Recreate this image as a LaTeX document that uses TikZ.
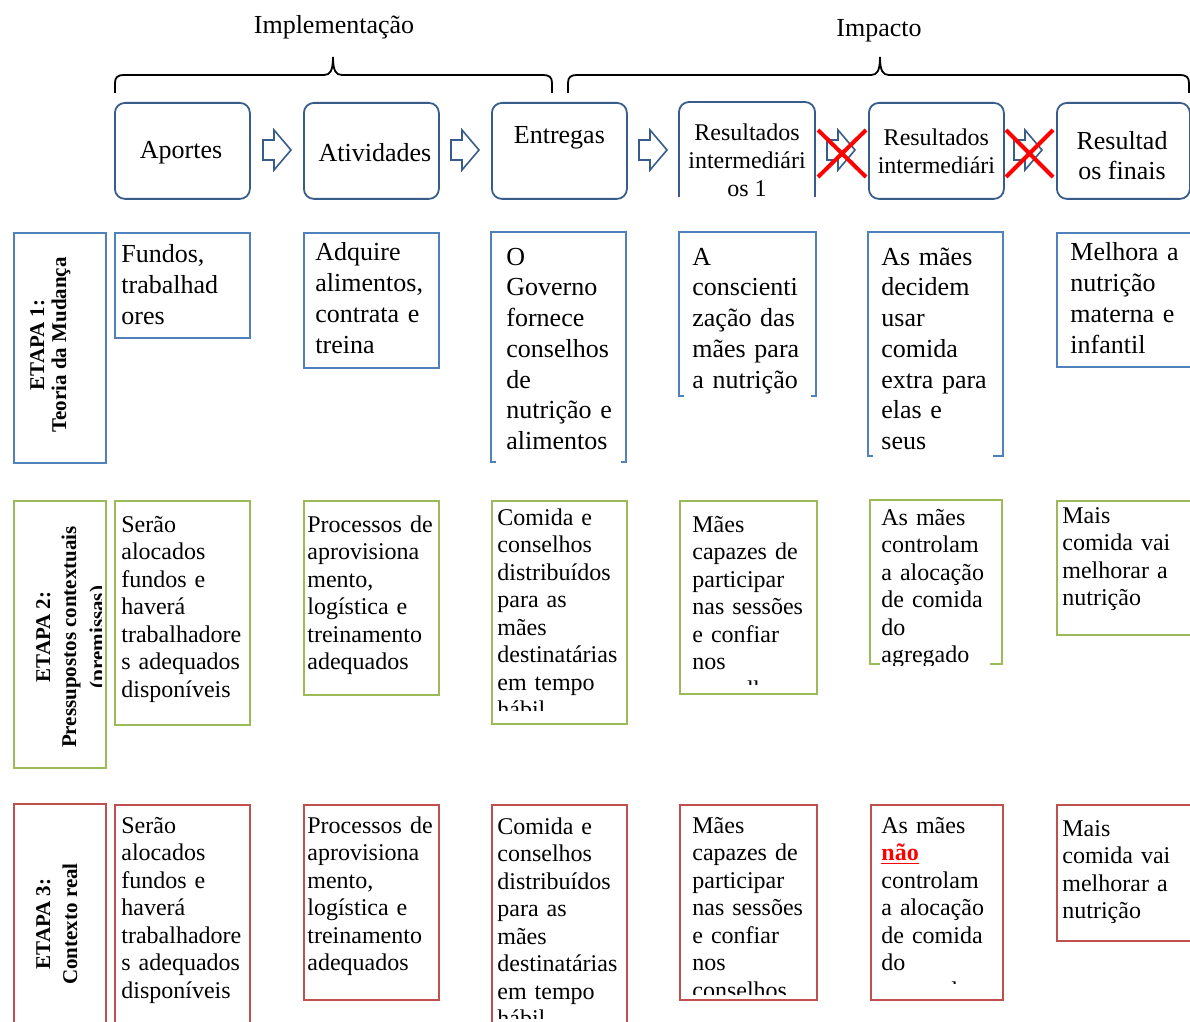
\documentclass[tikz,border=0pt]{standalone}
\usepackage{fontspec}
\setmainfont{Liberation Serif}
\usetikzlibrary{positioning}

\definecolor{headblue}{HTML}{385D8A}
\definecolor{rowblue}{HTML}{4F81BD}
\definecolor{rowgreen}{HTML}{9BBB59}
\definecolor{rowred}{HTML}{C0504D}
\definecolor{crossred}{HTML}{FF0000}

\tikzset{
  blockarrow/.pic={
    \draw[draw=headblue, fill=white, line width=0.8pt, line join=miter]
      (0,-10) -- (11,-10) -- (11,-20) -- (28,0) -- (11,20) -- (11,10) -- (0,10) -- cycle;
  }
}

\begin{document}
\begin{tikzpicture}[
                x=0.5pt, y=-0.5pt,
                headbox/.style={rectangle, rounded corners=5pt, draw=headblue, line width=0.9pt, anchor=north west, inner sep=0pt, minimum width=67.5pt, minimum height=48pt, align=center, font=\fontsize{13}{15}\selectfont},
                headline/.style={draw=headblue, line width=0.9pt, rounded corners=5pt},
                smallhead/.style={font=\fontsize{12}{14}\selectfont},
                brace/.style={draw=black, line width=0.9pt},
                toplabel/.style={inner sep=0pt, align=center, font=\fontsize{13}{15}\selectfont},
                crossline/.style={draw=crossred, line width=2pt},
                stagebox/.style={rectangle, line width=1pt, anchor=north west, inner sep=0pt, minimum width=46pt},
                stagetext/.style={rotate=90, anchor=base, inner sep=0pt, font=\fontsize{10.5}{13}\selectfont\bfseries},
                cellbox/.style={rectangle, line width=0.9pt, anchor=north west, inner sep=0pt, minimum width=67.5pt},
                cellline/.style={line width=0.9pt},
                bigtext/.style={anchor=base west, inner sep=0pt, text width=66pt, align=left, font=\fontsize{13}{15.4}\selectfont},
                celltext/.style={anchor=base west, inner sep=0pt, text width=66pt, align=left, font=\fontsize{12}{13.75}\selectfont}
                ]
                \path[use as bounding box, fill=white] (0,0) rectangle (1190,1022);
                \clip (0,0) rectangle (1190,1022);

                % Braces and top labels
                \draw[brace] (115,93) -- (115,83) .. controls (115,77) and (118,75) .. (124,75) -- (324,75) .. controls (330,75) and (333,71) .. (333,57) .. controls (333,71) and (336,75) .. (342,75) -- (543,75) .. controls (549,75) and (552,77) .. (552,83) -- (552,93);
                \draw[brace] (568,93) -- (568,83) .. controls (568,77) and (571,75) .. (577,75) -- (871,75) .. controls (877,75) and (880,71) .. (880,57) .. controls (880,71) and (883,75) .. (889,75) -- (1180,75) .. controls (1186,75) and (1189,77) .. (1189,83) -- (1189,93);
                \node[toplabel] (implabel) at (334,27) {Implementação};
                \node[toplabel] (impactlabel) at (879,31) {Impacto};

                % Chain of steps
                \node[headbox] (aportes) at (114,102) {};
                \node[toplabel] (aportestxt) at (181,153) {Aportes};
                \node[headbox] (atividades) at (303,102) {};
                \node[toplabel] (atividadestxt) at (375,153) {Atividades};
                \node[headbox] (entregas) at (491,102) {};
                \node[toplabel, below=12pt of entregas.north] (entregastxt) {Entregas};
                \draw[headline] (679,197) -- (679,102) -- (815,102) -- (815,197);
                \node[toplabel, smallhead] (result1) at (747,160) {Resultados\\intermediári\\os 1};
                \node[headbox, smallhead] (result2) at (868,102) {Resultados\\intermediári};
                \node[headbox, minimum width=66.5pt] (finais) at (1056,102) {};
                \node[toplabel] (finaistxt) at (1122,156) {Resultad\\os finais};

                % Block arrows and broken links
                \pic at (263,150) {blockarrow};
                \pic at (451,150) {blockarrow};
                \pic at (639,150) {blockarrow};
                \pic at (827,150) {blockarrow};
                \pic at (1014,150) {blockarrow};
                \draw[crossline] (818,130) -- (866,177) (818,177) -- (866,130);
                \draw[crossline] (1006,130) -- (1053,177) (1006,177) -- (1053,130);

                % Stage boxes
                \node[stagebox, draw=rowblue, minimum height=115pt] (etapa1) at (13,232) {};
                \node[stagetext] (etapa1a) at (44,345) {ETAPA 1:};
                \node[stagetext] (etapa1b) at (66,345) {Teoria da Mudança};
                \node[stagebox, draw=rowgreen, minimum height=133.5pt] (etapa2) at (13,500) {};
                \begin{scope}
                \clip (13,500) rectangle (101,767);
                \node[stagetext] (etapa2a) at (50,637) {ETAPA 2:};
                \node[stagetext] (etapa2b) at (76,637) {Pressupostos contextuais};
                \node[stagetext] (etapa2c) at (104,637) {(premissas)};
                \end{scope}
                \node[stagebox, draw=rowred, minimum height=125pt] (etapa3) at (13,803) {};
                \node[stagetext] (etapa3a) at (50,924) {ETAPA 3:};
                \node[stagetext] (etapa3b) at (77,924) {Contexto real};

                % Stage 1 - theory of change
                \node[cellbox, draw=rowblue, minimum height=52.5pt] (c11) at (114,232) {};
                \node[bigtext] (t11) at (121,263) {Fundos,\\trabalhad\\ores};
                \node[cellbox, draw=rowblue, minimum height=67.5pt] (c12) at (303,232) {};
                \node[bigtext] (t12) at (315,261) {Adquire\\alimentos,\\contrata e\\treina};
                \draw[cellline, rowblue] (496,462) -- (491,462) -- (491,232) -- (626,232) -- (626,462) -- (621,462);
                \node[bigtext] (t13) at (506,265) {O\\Governo\\fornece\\conselhos\\de\\nutrição e\\alimentos};
                \draw[cellline, rowblue] (684,396) -- (679,396) -- (679,232) -- (816,232) -- (816,396) -- (811,396);
                \node[bigtext] (t14) at (692,265) {A\\conscienti\\zação das\\mães para\\a nutrição};
                \draw[cellline, rowblue] (873,456) -- (868,456) -- (868,232) -- (1003,232) -- (1003,456) -- (993,456);
                \node[bigtext] (t15) at (881,265) {As mães\\decidem\\usar\\comida\\extra para\\elas e\\seus};
                \node[cellbox, draw=rowblue, minimum width=70pt, minimum height=67pt] (c16) at (1056,232) {};
                \node[bigtext] (t16) at (1070,261) {Melhora a\\nutrição\\materna e\\infantil};

                % Stage 2 - assumptions
                \node[cellbox, draw=rowgreen, minimum height=112pt] (c21) at (114,500) {};
                \node[celltext] (t21) at (121,532) {Serão\\alocados\\fundos e\\haverá\\trabalhadore\\s adequados\\disponíveis};
                \node[cellbox, draw=rowgreen, minimum height=97pt] (c22) at (303,500) {};
                \node[celltext] (t22) at (307,532) {Processos de\\aprovisiona\\mento,\\logística e\\treinamento\\adequados};
                \node[cellbox, draw=rowgreen, minimum height=111.5pt] (c23) at (491,500) {};
                \begin{scope}
                \clip (491,500) rectangle (626,710);
                \node[celltext] (t23) at (497,525) {Comida e\\conselhos\\distribuídos\\para as\\mães\\destinatárias\\em tempo\\hábil};
                \end{scope}
                \node[cellbox, draw=rowgreen, minimum width=68.5pt, minimum height=96.5pt] (c24) at (679,500) {};
                \begin{scope}
                \clip (679,500) rectangle (816,684);
                \node[celltext] (t24) at (692,532) {Mães\\capazes de\\participar\\nas sessões\\e confiar\\nos\\conselhos};
                \end{scope}
                \draw[cellline, rowgreen] (880,664) -- (870,664) -- (870,500) -- (1002,500) -- (1002,664) -- (990,664);
                \begin{scope}
                \clip (870,500) rectangle (1002,665);
                \node[celltext] (t25) at (881,525) {As mães\\controlam\\a alocação\\de comida\\do\\agregado};
                \end{scope}
                \node[cellbox, draw=rowgreen, minimum width=70pt, minimum height=67pt] (c26) at (1056,500) {};
                \node[celltext] (t26) at (1062,523) {Mais\\comida vai\\melhorar a\\nutrição};

                % Stage 3 - real context
                \node[cellbox, draw=rowred, minimum height=120pt] (c31) at (114,804) {};
                \node[celltext] (t31) at (121,833) {Serão\\alocados\\fundos e\\haverá\\trabalhadore\\s adequados\\disponíveis};
                \node[cellbox, draw=rowred, minimum height=97.5pt] (c32) at (303,804) {};
                \node[celltext] (t32) at (307,833) {Processos de\\aprovisiona\\mento,\\logística e\\treinamento\\adequados};
                \node[cellbox, draw=rowred, minimum height=120pt] (c33) at (491,804) {};
                \begin{scope}
                \clip (491,804) rectangle (626,1018);
                \node[celltext] (t33) at (497,834) {Comida e\\conselhos\\distribuídos\\para as\\mães\\destinatárias\\em tempo\\hábil};
                \end{scope}
                \node[cellbox, draw=rowred, minimum width=68.5pt, minimum height=97.5pt] (c34) at (679,804) {};
                \begin{scope}
                \clip (679,804) rectangle (816,994);
                \node[celltext] (t34) at (692,833) {Mães\\capazes de\\participar\\nas sessões\\e confiar\\nos\\conselhos};
                \end{scope}
                \node[cellbox, draw=rowred, minimum width=66pt, minimum height=97.5pt] (c35) at (870,804) {};
                \begin{scope}
                \clip (870,804) rectangle (1002,983);
                \node[celltext] (t35) at (881,833) {As mães\\{\color{crossred}\textbf{\underline{não}}}\\controlam\\a alocação\\de comida\\do\\agregado};
                \end{scope}
                \node[cellbox, draw=rowred, minimum width=70pt, minimum height=68pt] (c36) at (1056,804) {};
                \node[celltext] (t36) at (1062,836) {Mais\\comida vai\\melhorar a\\nutrição};

\end{tikzpicture}
\end{document}
